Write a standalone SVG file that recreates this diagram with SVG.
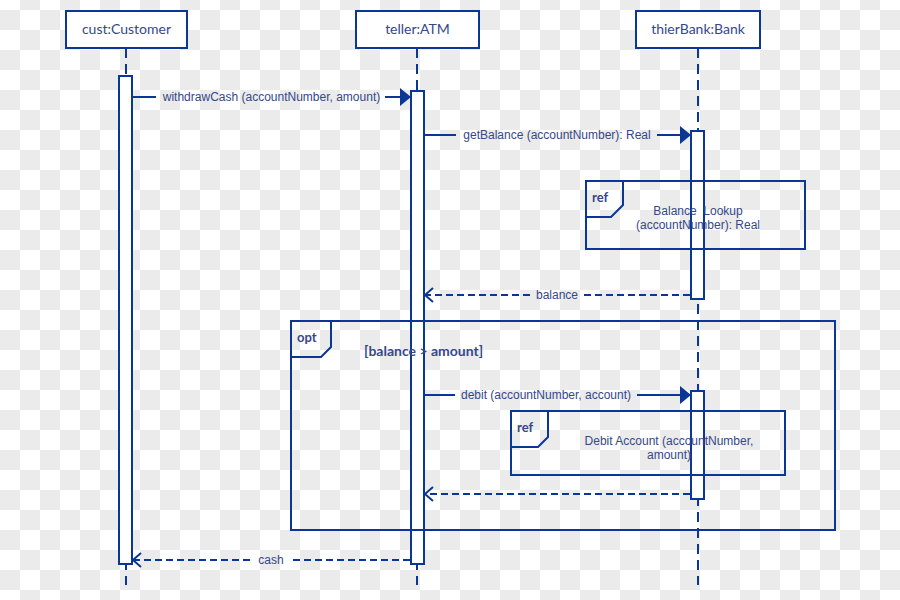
<svg xmlns="http://www.w3.org/2000/svg" width="900" height="600" viewBox="0 0 900 600">
<defs>
<pattern id="chk" patternUnits="userSpaceOnUse" x="0" y="10" width="40" height="40">
<rect width="40" height="40" fill="#ffffff"/>
<rect width="20" height="20" fill="#ebebeb"/>
<rect x="20" y="20" width="20" height="20" fill="#ebebeb"/>
</pattern>
</defs>
<style>
.box{fill:#fff;stroke:#0a3796;stroke-width:2}
.frame{fill:none;stroke:#0a3796;stroke-width:2}
.act{fill:#fff;stroke:#0a3796;stroke-width:2}
.life{stroke:#0a3796;stroke-width:2;stroke-dasharray:10 6;fill:none}
.msg{stroke:#0a3796;stroke-width:2;fill:none}
.ret{stroke:#0a3796;stroke-width:2;stroke-dasharray:7 4;fill:none}
.head{fill:#0a3796}
.t{font-family:"Liberation Sans",Arial,sans-serif;fill:#34488a;font-size:12px}
.n{font-family:Lato,"Liberation Sans",sans-serif;fill:#34488a;font-size:14px;text-anchor:middle}
.b{font-family:Lato,"Liberation Sans",sans-serif;fill:#34488a;font-size:13px;font-weight:bold}
.g{font-size:14px}
.c{text-anchor:middle}
</style>
<rect width="900" height="600" fill="url(#chk)"/>

<g id="lifelines">
<line class="life" x1="126" y1="48" x2="126" y2="585"/>
<line class="life" x1="417" y1="48" x2="417" y2="585"/>
<line class="life" x1="698" y1="48" x2="698" y2="585"/>
</g>

<g id="customer">
<rect class="box" x="66" y="11" width="121" height="37"/>
<text class="n" x="126.5" y="34">cust:Customer</text>
<rect class="act" x="119" y="76" width="13" height="488"/>
</g>

<g id="atm">
<rect class="box" x="356" y="11" width="123" height="37"/>
<text class="n" x="417.5" y="34">teller:ATM</text>
<rect class="act" x="411" y="91" width="13" height="473"/>
</g>

<g id="bank">
<rect class="box" x="636" y="11" width="124" height="37"/>
<text class="n" x="698" y="34">thierBank:Bank</text>
<rect class="act" x="691" y="131" width="13" height="168"/>
<rect class="act" x="691" y="391" width="13" height="108"/>
</g>

<g id="opt">
<rect class="frame" x="291" y="321" width="544" height="209"/>
<path class="frame" d="M291,357 H321 L331,347 V321"/>
<text class="b" x="297" y="342">opt</text>
<text class="b g" x="364" y="356">[balance &gt; amount]</text>
</g>

<g id="ref1">
<rect class="frame" x="586" y="181" width="219" height="68"/>
<path class="frame" d="M586,217 H611 L623,205 V181"/>
<text class="b" x="592" y="202">ref</text>
<text class="t c" x="698" y="215">Balance&#160; Lookup</text>
<text class="t c" x="698" y="229">(accountNumber): Real</text>
</g>

<g id="ref2">
<rect class="frame" x="511" y="411" width="274" height="64"/>
<path class="frame" d="M511,447 H538 L548,437 V411"/>
<text class="b" x="517" y="432">ref</text>
<text class="t c" x="669" y="445">Debit Account (accountNumber,</text>
<text class="t c" x="669" y="459">amount)</text>
</g>

<g id="connectors">
<line class="msg" x1="132" y1="97" x2="156" y2="97"/>
<line class="msg" x1="385" y1="97" x2="402" y2="97"/>
<polygon class="head" points="400,88 411,97 400,106"/>
<text class="t c" x="271.5" y="101">withdrawCash (accountNumber, amount)</text>

<line class="msg" x1="424" y1="135" x2="456" y2="135"/>
<line class="msg" x1="657" y1="135" x2="682" y2="135"/>
<polygon class="head" points="680,126 691,135 680,144"/>
<text class="t c" x="557" y="139">getBalance (accountNumber): Real</text>

<line class="ret" x1="690" y1="295" x2="582" y2="295"/>
<line class="ret" x1="530" y1="295" x2="426" y2="295"/>
<polyline class="msg" points="433,288 425,295 433,302"/>
<text class="t c" x="557" y="299">balance</text>

<line class="msg" x1="424" y1="395" x2="455" y2="395"/>
<line class="msg" x1="637" y1="395" x2="682" y2="395"/>
<polygon class="head" points="680,386 691,395 680,404"/>
<text class="t c" x="546" y="399">debit (accountNumber, account)</text>

<line class="ret" x1="690" y1="494" x2="426" y2="494"/>
<polyline class="msg" points="433,487 425,494 433,501"/>

<line class="ret" x1="410" y1="560" x2="290" y2="560"/>
<line class="ret" x1="250" y1="560" x2="134" y2="560"/>
<polyline class="msg" points="141,553 133,560 141,567"/>
<text class="t c" x="271" y="564">cash</text>
</g>
</svg>
